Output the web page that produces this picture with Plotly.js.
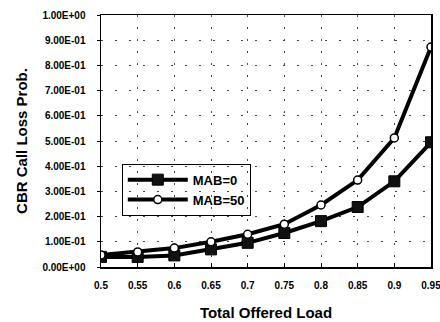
<!DOCTYPE html>
<html><head><meta charset="utf-8">
<script src="https://cdn.plot.ly/plotly-3.0.1.min.js"></script>
<style>html,body{margin:0;padding:0;background:#fff}#c{width:440px;height:322px}</style>
</head><body><div id="c"></div>
<script>
const loads = [0.5, 0.55, 0.6, 0.65, 0.7, 0.75, 0.8, 0.85, 0.9, 0.95];
const mab0 = [0.040, 0.040, 0.046, 0.070, 0.096, 0.135, 0.182, 0.238, 0.340, 0.495];
const mab50 = [0.048, 0.060, 0.075, 0.100, 0.130, 0.170, 0.246, 0.345, 0.512, 0.873];
const seriesNames = ['MAB=0', 'MAB=50'];
const yTicks = [0, 0.1, 0.2, 0.3, 0.4, 0.5, 0.6, 0.7, 0.8, 0.9, 1.0];
const xTickText = ['0.5','0.55','0.6','0.65','0.7','0.75','0.8','0.85','0.9','0.95'];
const xTitle = 'Total Offered Load';
const yTitle = 'CBR Call Loss Prob.';

function sci(v){
  if (v === 0) return '0.00E+00';
  let s = v.toExponential(2).toUpperCase();
  let [m, e] = s.split('E');
  let sign = e[0] === '-' ? '-' : '+';
  let d = e.replace(/[+-]/,'');
  if (d.length < 2) d = '0' + d;
  return m + 'E' + sign + d;
}
const pad = n => '\u00A0'.repeat(n);

const font = {family: 'Liberation Sans, Arial, sans-serif', color: '#000', weight: 'bold'};
const f = s => Object.assign({size: s}, font);
const traces = [
  {x: loads, y: mab0, name: seriesNames[0], mode: 'lines+markers',
   line: {color: '#000', width: 4},
   marker: {symbol: 'square', size: 11, color: '#111', line: {color: '#000', width: 1}}},
  {x: loads, y: mab50, name: seriesNames[1], mode: 'lines+markers',
   line: {color: '#000', width: 4},
   marker: {symbol: 'circle', size: 8, color: '#fff', line: {color: '#000', width: 1.5}}}
];
const layout = {
  width: 440, height: 322,
  margin: {l: 101, r: 9, t: 15, b: 55},
  paper_bgcolor: '#fff', plot_bgcolor: '#fff',
  font: f(10),
  showlegend: true,
  legend: {x: 0.063, y: 0.41, xanchor: 'left', yanchor: 'top',
    bordercolor: '#000', borderwidth: 1, bgcolor: 'rgba(0,0,0,0)',
    font: f(13), itemwidth: 60, tracegroupgap: 2},
  xaxis: {range: [0.5, 0.95], tickvals: loads, ticktext: xTickText,
    showline: true, linecolor: '#000', linewidth: 1.5, mirror: true,
    ticks: 'inside', ticklen: 4, tickcolor: '#000', ticklabelstandoff: 8,
    ticklabeloverflow: 'allow',
    showgrid: true, gridcolor: '#444', gridwidth: 1, griddash: '2px,10px',
    zeroline: false, tickfont: f(10),
    title: {text: xTitle + pad(3), font: f(15), standoff: 18}},
  yaxis: {range: [0, 1.0], tickvals: yTicks, ticktext: yTicks.map(sci),
    showline: true, linecolor: '#000', linewidth: 1.5, mirror: true,
    ticks: 'outside', ticklen: 3, tickcolor: '#000', ticklabelstandoff: 9,
    ticklabeloverflow: 'allow',
    showgrid: true, gridcolor: '#444', gridwidth: 1, griddash: '2px,12px',
    zeroline: false, tickfont: f(10),
    title: {text: yTitle + pad(6), font: f(15), standoff: 11}}
};
Plotly.newPlot('c', traces, layout, {staticPlot: true, displayModeBar: false});
</script></body></html>
